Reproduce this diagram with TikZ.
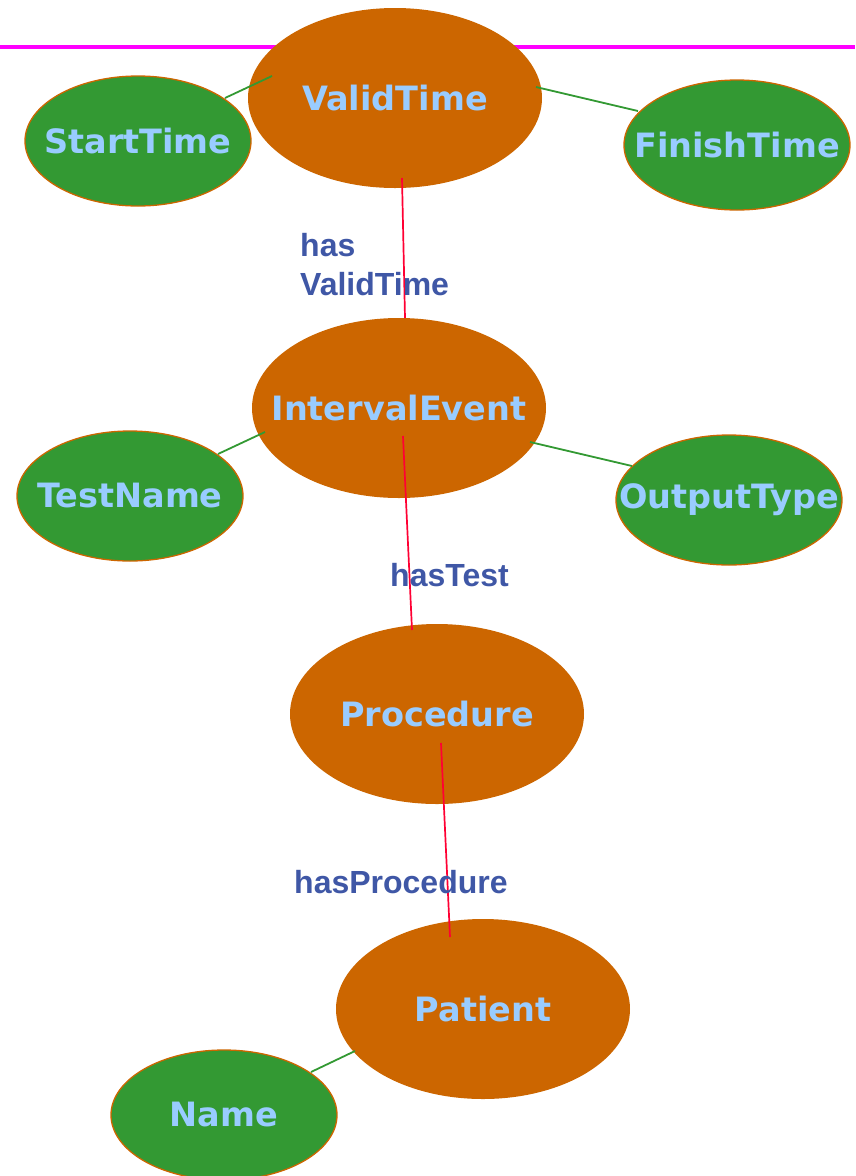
\documentclass[tikz,border=0pt]{standalone}
\usepackage{fontspec}
\usetikzlibrary{shapes.geometric,calc}
\newfontfamily\ellfont{DejaVu Sans}
\newfontfamily\labfont{Liberation Sans}
\definecolor{rust}{HTML}{CC6600}
\definecolor{leaf}{HTML}{339933}
\definecolor{sky}{HTML}{99CCFF}
\definecolor{ink}{HTML}{3F57A6}
\definecolor{rel}{HTML}{FF0033}
\definecolor{rule}{HTML}{FF00FF}
% zero-width text box so the ellipse keeps its fixed size
\newcommand\ellipsetext[1]{\raisebox{-2pt}{\makebox[0pt]{#1}}}
\begin{document}
\begin{tikzpicture}[x=1pt,y=-1pt,
  concept/.style={ellipse,fill=rust,inner sep=0pt,minimum width=294pt,minimum height=180pt,
    text=sky,font=\ellfont\bfseries\fontsize{33.5}{36}\selectfont},
  attr/.style={ellipse,fill=leaf,draw=rust,line width=1.3pt,inner sep=0pt,minimum width=226pt,minimum height=130pt,
    text=sky,font=\ellfont\bfseries\fontsize{33.5}{36}\selectfont},
  relation/.style={text=ink,font=\labfont\bfseries\fontsize{32}{39}\selectfont,align=left,anchor=north west,inner sep=0pt},
  attrlink/.style={draw=leaf,line width=1.8pt},
  rellink/.style={draw=rel,line width=1.7pt}]
\useasboundingbox (0,0) rectangle (855,1176);
% header rule
\draw[rule,line width=4.8pt] (0,47) -- (855,47);
% concepts
\node[concept] (vt) at (395,98) {\ellipsetext{ValidTime}};
\node[concept] (ie) at (399,408) {\ellipsetext{IntervalEvent}};
\node[concept] (pr) at (437,714) {\ellipsetext{Procedure}};
\node[concept] (pa) at (483,1009) {\ellipsetext{Patient}};
% attributes
\node[attr] (st) at (138,141) {\ellipsetext{StartTime}};
\node[attr] (ft) at (737,145) {\ellipsetext{FinishTime}};
\node[attr] (tn) at (130,496) {\ellipsetext{TestName}};
\node[attr] (ot) at (729,500) {\ellipsetext{OutputType}};
\node[attr] (nm) at (224,1115) {\ellipsetext{Name}};
% attribute links
\draw[attrlink] ($(st)+(87,-43)$) -- ($(vt)+(-123,-22)$);
\draw[attrlink] ($(vt)+(141,-11)$) -- ($(ft)+(-99,-34)$);
\draw[attrlink] ($(tn)+(88,-42)$) -- ($(ie)+(-134,24)$);
\draw[attrlink] ($(ie)+(131,34)$) -- ($(ot)+(-97,-34)$);
\draw[attrlink] ($(nm)+(87,-43)$) -- ($(pa)+(-128,42)$);
% relation links
\draw[rellink] ($(vt)+(7,80)$) -- ($(ie)+(6,-90)$);
\draw[rellink] ($(ie)+(4,28)$) -- ($(pr)+(-25,-84)$);
\draw[rellink] ($(pr)+(4,29)$) -- ($(pa)+(-33,-72)$);
% relation labels
\node[relation] (l1) at (300,233) {has\\ValidTime};
\node[relation] (l2) at (390,563) {hasTest};
\node[relation] (l3) at (294,870) {hasProcedure};
\end{tikzpicture}
\end{document}
